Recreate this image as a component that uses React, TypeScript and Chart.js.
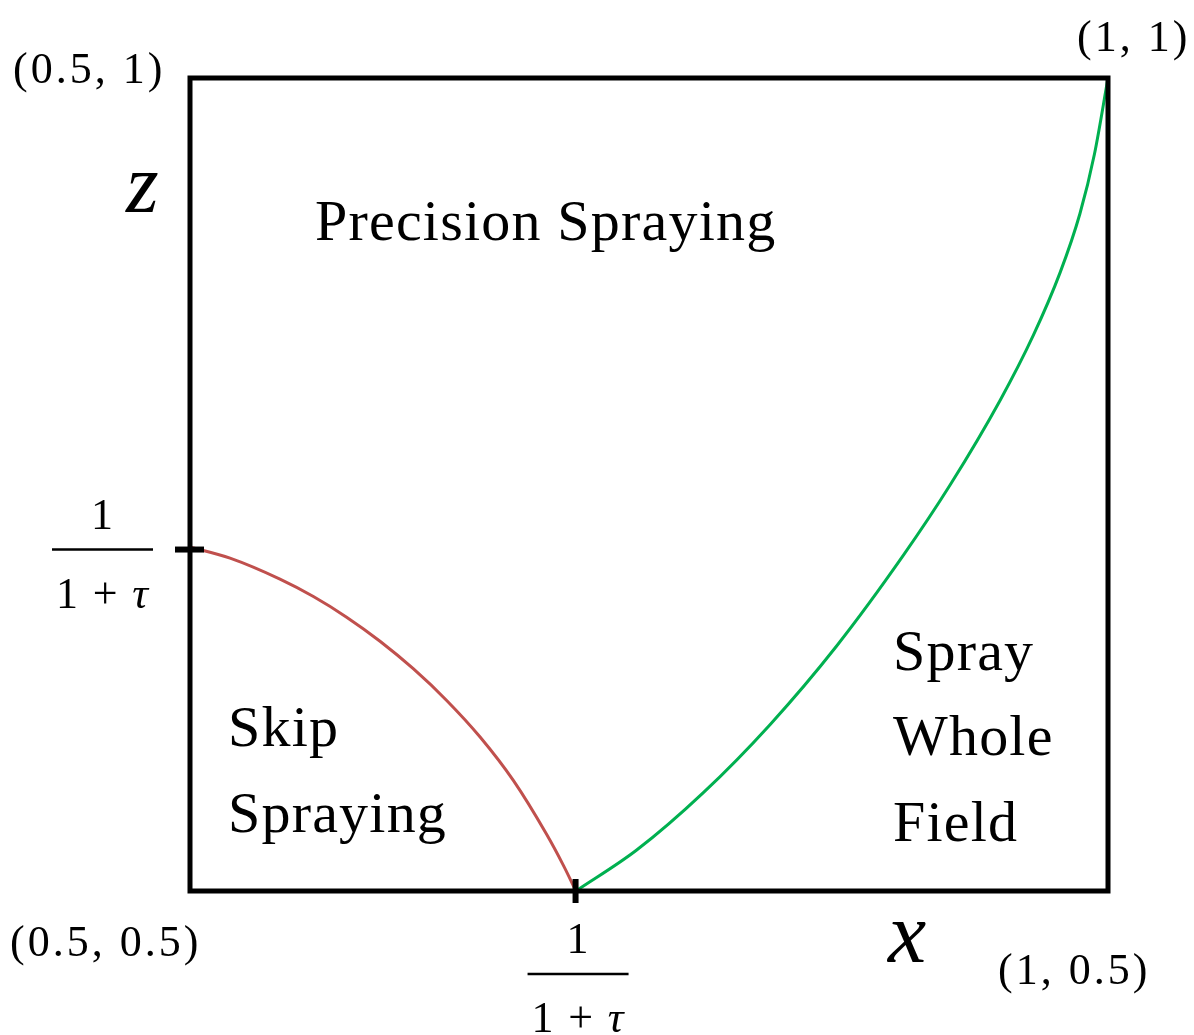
import React, { useEffect, useRef } from "react";
import { Chart, registerables } from "chart.js";

Chart.register(...registerables);

// 1/(1+τ) threshold on both axes
const threshold = 0.71;

// Boundary between "Skip Spraying" and "Precision Spraying" (red)
const skipX = [0.5, 0.5218, 0.549, 0.5672, 0.5853, 0.6035, 0.6216, 0.6398, 0.658, 0.6761, 0.6943, 0.7033, 0.7102];
const skipZ = [0.7116, 0.7047, 0.6918, 0.6811, 0.6684, 0.6536, 0.6367, 0.6172, 0.5947, 0.568, 0.5347, 0.5159, 0.5];

// Boundary between "Precision Spraying" and "Spray Whole Field" (green)
const wholeX = [0.7102, 0.7433, 0.7796, 0.8159, 0.8522, 0.8885, 0.9139, 0.9412, 0.9593, 0.9739, 0.9847, 0.9926, 1.0];
const wholeZ = [0.5, 0.5252, 0.5605, 0.6023, 0.6507, 0.7064, 0.7495, 0.8017, 0.8417, 0.8803, 0.9165, 0.9531, 1.0];

const xRange = [0.5, 1];
const zRange = [0.5, 1];

const cornerLabels = ["(0.5, 1)", "(1, 1)", "(0.5, 0.5)", "(1, 0.5)"];
const regionPrecision = ["Precision Spraying"];
const regionSkip = ["Skip", "Spraying"];
const regionWhole = ["Spray", "Whole", "Field"];
const axisNames = ["x", "z"];

const SERIF = '"Liberation Serif", "Times New Roman", serif';

const overlayPlugin = {
  id: "overlay",
  afterDraw(chart: any) {
    const ctx = chart.ctx as CanvasRenderingContext2D;
    const { left, right, top, bottom } = chart.chartArea;
    const xs = chart.scales.x;
    const ys = chart.scales.y;
    ctx.save();

    // frame
    ctx.strokeStyle = "#000";
    ctx.lineWidth = 5;
    ctx.lineJoin = "miter";
    ctx.strokeRect(left, top, right - left, bottom - top);

    // threshold ticks
    const ty = ys.getPixelForValue(threshold);
    const tx = xs.getPixelForValue(threshold);
    ctx.lineWidth = 6;
    ctx.beginPath();
    ctx.moveTo(left - 15, ty);
    ctx.lineTo(left + 14, ty);
    ctx.stroke();
    ctx.beginPath();
    ctx.moveTo(tx, bottom - 12);
    ctx.lineTo(tx, bottom + 12);
    ctx.stroke();

    const text = (s: string, x: number, y: number, font: string, spacing = "0px", align: CanvasTextAlign = "left") => {
      ctx.font = font;
      (ctx as any).letterSpacing = spacing;
      ctx.textAlign = align;
      ctx.textBaseline = "alphabetic";
      ctx.fillStyle = "#000";
      ctx.fillText(s, x, y);
    };

    // corner coordinates
    const cFont = `44px ${SERIF}`;
    text(cornerLabels[0], 13, 83, cFont, "3px");
    text(cornerLabels[1], 1077, 51, cFont, "3px");
    text(cornerLabels[2], 10, 956, cFont, "3px");
    text(cornerLabels[3], 998, 984, cFont, "3px");

    // region labels
    const rFont = `58px ${SERIF}`;
    text(regionPrecision[0], 315, 240, rFont, "1.2px");
    text(regionSkip[0], 228, 746, rFont, "1.2px");
    text(regionSkip[1], 228, 832, rFont, "1.2px");
    text(regionWhole[0], 893, 670, rFont, "1.2px");
    text(regionWhole[1], 893, 755, rFont, "1.2px");
    text(regionWhole[2], 893, 841, rFont, "1.2px");

    // axis names
    text(axisNames[1], 126, 212, `italic 84px ${SERIF}`);
    text(axisNames[0], 888, 962, `italic 86px ${SERIF}`);

    // fractions 1/(1+τ)
    const fraction = (cx: number, lineY: number) => {
      const f = `44px ${SERIF}`;
      const fi = `italic 44px ${SERIF}`;
      text("1", cx, lineY - 21, f, "0px", "center");
      ctx.lineWidth = 2.5;
      ctx.beginPath();
      ctx.moveTo(cx - 50, lineY);
      ctx.lineTo(cx + 51, lineY);
      ctx.stroke();
      ctx.font = f;
      (ctx as any).letterSpacing = "0px";
      const w1 = ctx.measureText("1").width;
      const wp = ctx.measureText("+").width;
      ctx.font = fi;
      const wt = ctx.measureText("τ").width;
      const total = 92;
      const gap = (total - w1 - wp - wt) / 2;
      const x0 = cx - total / 2;
      const by = lineY + 58;
      text("1", x0, by, f);
      text("+", x0 + w1 + gap, by, f);
      text("τ", x0 + w1 + gap + wp + gap, by, fi);
    };
    fraction(102, ty);
    fraction(tx + 2, bottom + 83);

    ctx.restore();
  },
};

export default function App() {
  const ref = useRef<HTMLCanvasElement | null>(null);
  useEffect(() => {
    if (!ref.current) return;
    const chart = new Chart(ref.current, {
      type: "scatter",
      data: {
        datasets: [
          {
            label: "skip",
            data: skipX.map((x, i) => ({ x, y: skipZ[i] })),
            showLine: true,
            borderColor: "#c0504d",
            borderWidth: 3,
            pointRadius: 0,
            cubicInterpolationMode: "monotone",
          },
          {
            label: "whole",
            data: wholeX.map((x, i) => ({ x, y: wholeZ[i] })),
            showLine: true,
            borderColor: "#00b050",
            borderWidth: 3,
            pointRadius: 0,
            cubicInterpolationMode: "monotone",
          },
        ],
      },
      options: {
        responsive: false,
        animation: false,
        devicePixelRatio: 1,
        layout: { padding: { left: 190, top: 78, right: 86, bottom: 144 } },
        plugins: { legend: { display: false }, tooltip: { enabled: false } },
        scales: {
          x: { type: "linear", min: xRange[0], max: xRange[1], display: false },
          y: { type: "linear", min: zRange[0], max: zRange[1], display: false },
        },
      },
      plugins: [overlayPlugin],
    });
    return () => chart.destroy();
  }, []);
  return (
    <div style={{ position: "absolute", left: 0, top: 0, width: 1194, height: 1035, background: "#fff" }}>
      <canvas ref={ref} width={1194} height={1035} />
    </div>
  );
}
